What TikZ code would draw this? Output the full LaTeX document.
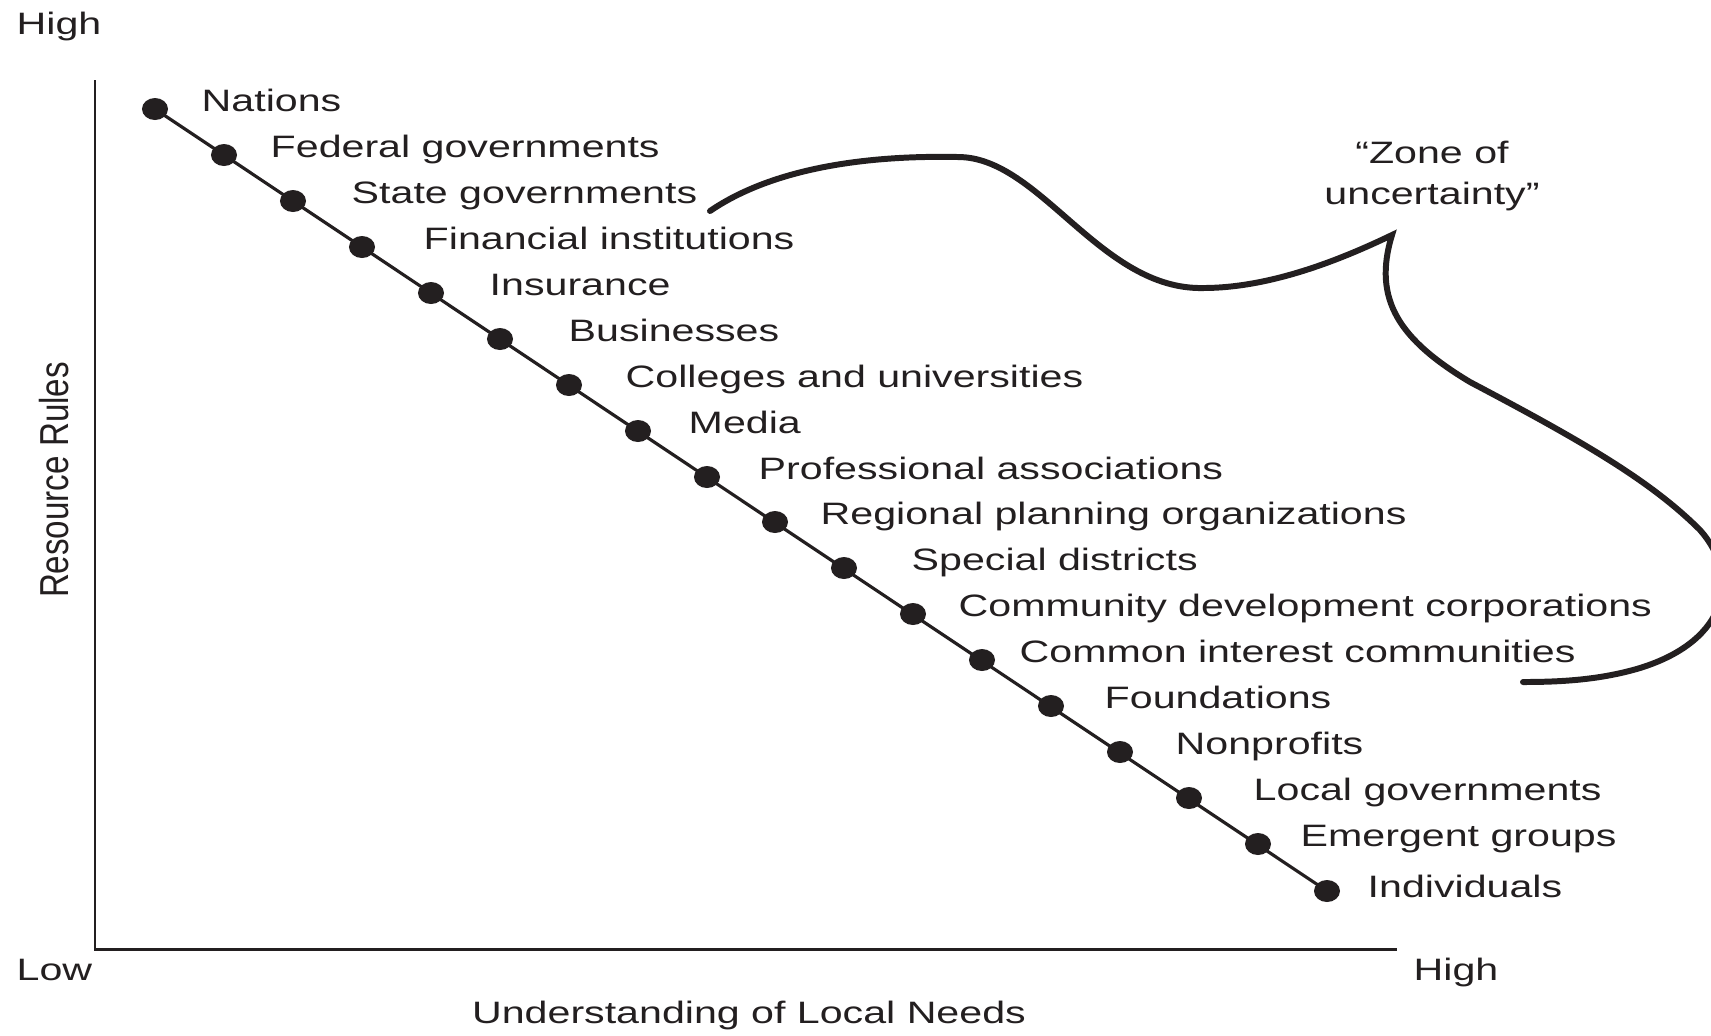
\documentclass[tikz,border=0pt]{standalone}
\usepackage{fontspec}
\setmainfont{Liberation Sans}[FakeStretch=1.33]
\newfontfamily\sidefont{Liberation Sans}[FakeStretch=0.82]
\usepackage{tikz}
\usepackage{xcolor}
\usetikzlibrary{shapes.geometric, positioning}
\definecolor{cInk}{RGB}{35,31,32}
\tikzset{
	dot/.style      ={ellipse, fill=cInk, draw=none, inner sep=0pt, minimum width=0.26cm, minimum height=0.22cm},
	lbl/.style      ={inner sep=0pt, anchor=base west, yshift=-0.02cm, text=cInk},
	axlbl/.style    ={inner sep=0pt, text=cInk},
	axisline/.style ={draw=cInk, line width=0.85pt},
	diag/.style     ={draw=cInk, line width=0.9pt},
	% hand-drawn brace round the middle of the list
	zonecurve/.style={draw=cInk, line width=1.7pt, line cap=round, line join=miter},
}

\begin{document}
\begin{tikzpicture}[x=0.01cm, y=-0.01cm, font=\fontsize{8.8}{11.7}\selectfont]
			\useasboundingbox (0,0) rectangle (1711,1035);
			\clip (0,0) rectangle (1711,1035);
			% ---------------- axes ----------------
			\coordinate (ytop) at (95,80);
			\coordinate (origin) at (95,949);
			\coordinate (xend) at (1397,949);
			\draw[axisline] (ytop) -- (origin) -- (xend);
			\node[axlbl, anchor=base west] (yhigh) at (16,34) {High};
			\node[axlbl, anchor=base west] (xlow) at (16,980) {Low};
			\node[axlbl, anchor=base west] (xhigh) at (1413,980) {High};
			\node[axlbl, anchor=base] (xtitle) at (749,1023) {Understanding of Local Needs};
			\node[axlbl, rotate=90, font=\sidefont\fontsize{11.5}{14}\selectfont] (ytitle) at (54,480) {Resource Rules};
			% ---------------- actors ----------------
			\node[dot] (d1) at (155,109) {};
			\node[dot] (d2) at (224,155) {};
			\node[dot] (d3) at (293,201) {};
			\node[dot] (d4) at (362,247) {};
			\node[dot] (d5) at (431,293) {};
			\node[dot] (d6) at (500,339) {};
			\node[dot] (d7) at (569,385) {};
			\node[dot] (d8) at (638,431) {};
			\node[dot] (d9) at (707,477) {};
			\node[dot] (d10) at (775,522) {};
			\node[dot] (d11) at (844,568) {};
			\node[dot] (d12) at (913,614) {};
			\node[dot] (d13) at (982,660) {};
			\node[dot] (d14) at (1051,706) {};
			\node[dot] (d15) at (1120,752) {};
			\node[dot] (d16) at (1189,798) {};
			\node[dot] (d17) at (1258,844) {};
			\node[dot] (d18) at (1327,891) {};
			\draw[diag] (d1.center) -- (d18.center);
			\node[right=0.46cm of d1.center, lbl] (n1) {Nations};
			\node[right=0.46cm of d2.center, lbl] (n2) {Federal governments};
			\node[right=0.58cm of d3.center, lbl] (n3) {State governments};
			\node[right=0.61cm of d4.center, lbl] (n4) {Financial institutions};
			\node[right=0.58cm of d5.center, lbl] (n5) {Insurance};
			\node[right=0.68cm of d6.center, lbl] (n6) {Businesses};
			\node[right=0.56cm of d7.center, lbl] (n7) {Colleges and universities};
			\node[right=0.50cm of d8.center, lbl] (n8) {Media};
			\node[right=0.51cm of d9.center, lbl] (n9) {Professional associations};
			\node[right=0.45cm of d10.center, lbl] (n10) {Regional planning organizations};
			\node[right=0.67cm of d11.center, lbl] (n11) {Special districts};
			\node[right=0.45cm of d12.center, lbl] (n12) {Community development corporations};
			\node[right=0.37cm of d13.center, lbl] (n13) {Common interest communities};
			\node[right=0.53cm of d14.center, lbl] (n14) {Foundations};
			\node[right=0.55cm of d15.center, lbl] (n15) {Nonprofits};
			\node[right=0.64cm of d16.center, lbl] (n16) {Local governments};
			\node[right=0.42cm of d17.center, lbl] (n17) {Emergent groups};
			\node[right=0.40cm of d18.center, lbl, yshift=-0.04cm] (n18) {Individuals};
			% ---------------- zone of uncertainty ----------------
			\node[axlbl, align=center] (zone) at (1432,176) {“Zone of\\uncertainty”};
			\draw[zonecurve] (710,211) .. controls (770,170) and (860,155) .. (958,157)
				.. controls (1040,157) and (1100,290) .. (1203,288)
				.. controls (1270,288) and (1340,260) .. (1392,235)
				.. controls (1372,300) and (1400,340) .. (1470,382)
				.. controls (1580,440) and (1650,480) .. (1700,530)
				.. controls (1740,575) and (1730,640) .. (1640,668)
				.. controls (1600,680) and (1560,682) .. (1523,682);
		\end{tikzpicture}
\end{document}
